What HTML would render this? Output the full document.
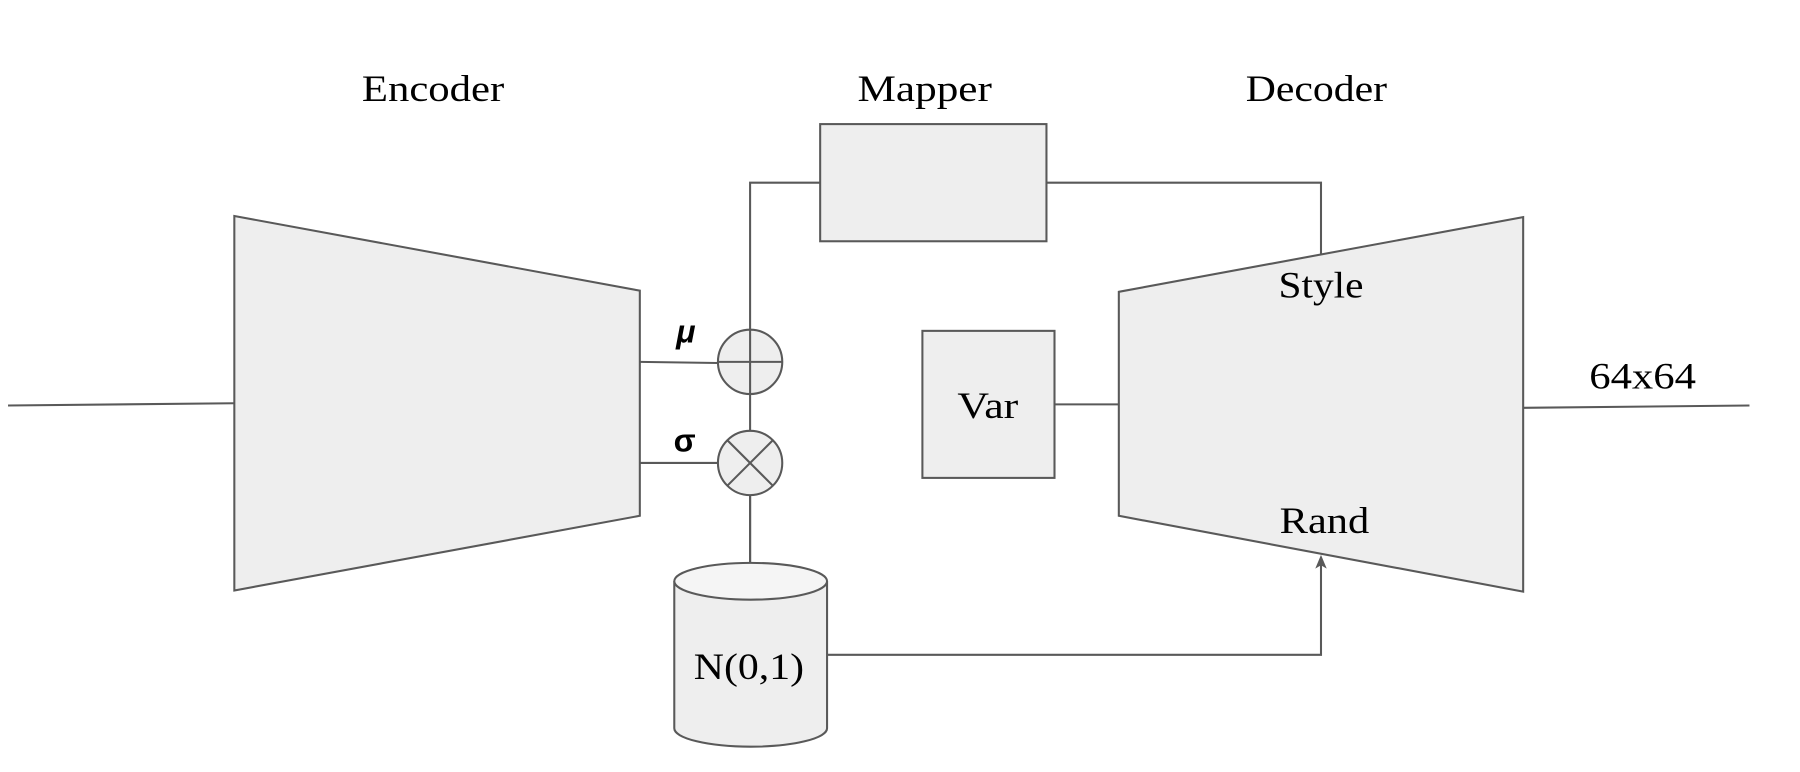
<!DOCTYPE html>
<html><head><style>html,body{margin:0;padding:0;background:#fff;}svg{display:block}</style></head>
<body>
<svg width="1800" height="772" viewBox="0 0 1567 672" xmlns="http://www.w3.org/2000/svg">
<defs><marker id="ar" markerWidth="12" markerHeight="12" refX="9" refY="6" orient="auto" markerUnits="userSpaceOnUse"><path d="M0,1 L12,6 L0,11 L3,6 Z" fill="#595959"/></marker></defs>
<g stroke="#595959" stroke-width="1.8" fill="#eeeeee">
<line x1="7" y1="353" x2="204" y2="351"/>
<line x1="1326" y1="355" x2="1523" y2="353"/>
<polygon points="204,188 557,253 557,449 204,514"/>
<polygon points="974,254 1326,189 1326,515 974,449"/>
<polyline points="714,159 653,159 653,490" fill="none"/>
<polyline points="911,159 1150,159 1150,221" fill="none"/>
<rect x="714" y="108" width="197" height="102"/>
<line x1="557" y1="315" x2="625" y2="316"/>
<line x1="557" y1="403" x2="625" y2="403"/>
<circle cx="653" cy="315" r="28"/>
<line x1="625" y1="315" x2="681" y2="315"/>
<line x1="653" y1="287" x2="653" y2="343"/>
<circle cx="653" cy="403" r="28"/>
<line x1="633" y1="383" x2="673" y2="423"/>
<line x1="673" y1="383" x2="633" y2="423"/>
<line x1="653" y1="431" x2="653" y2="490"/>
<rect x="803" y="288" width="115" height="128"/>
<line x1="918" y1="352" x2="974" y2="352"/>
<path d="M587,506 L587,634 A66.5,16 0 0 0 720,634 L720,506"/>
<ellipse cx="653.5" cy="506" rx="66.5" ry="16" fill="#f5f5f5"/>
<polyline points="720,570 1150,570 1150,486" fill="none" marker-end="url(#ar)"/>
</g>
<g font-family="'Liberation Serif', serif" font-size="32" fill="#000" text-anchor="middle">
<text x="377" y="88" textLength="124" lengthAdjust="spacingAndGlyphs">Encoder</text>
<text x="805" y="88" textLength="117" lengthAdjust="spacingAndGlyphs">Mapper</text>
<text x="1146" y="88" textLength="123" lengthAdjust="spacingAndGlyphs">Decoder</text>
<text x="1150" y="259" textLength="74" lengthAdjust="spacingAndGlyphs">Style</text>
<text x="1153" y="464" textLength="78" lengthAdjust="spacingAndGlyphs">Rand</text>
<text x="860" y="364" textLength="53" lengthAdjust="spacingAndGlyphs">Var</text>
<text x="652" y="591" textLength="96" lengthAdjust="spacingAndGlyphs">N(0,1)</text>
<text x="1430" y="338" textLength="93" lengthAdjust="spacingAndGlyphs">64x64</text>
</g>
<g font-family="'Liberation Sans', sans-serif" font-size="28" font-weight="bold" fill="#000" text-anchor="middle">
<text x="597" y="298" font-style="italic">μ</text>
<text x="596" y="393">σ</text>
</g>
</svg>
</body></html>
